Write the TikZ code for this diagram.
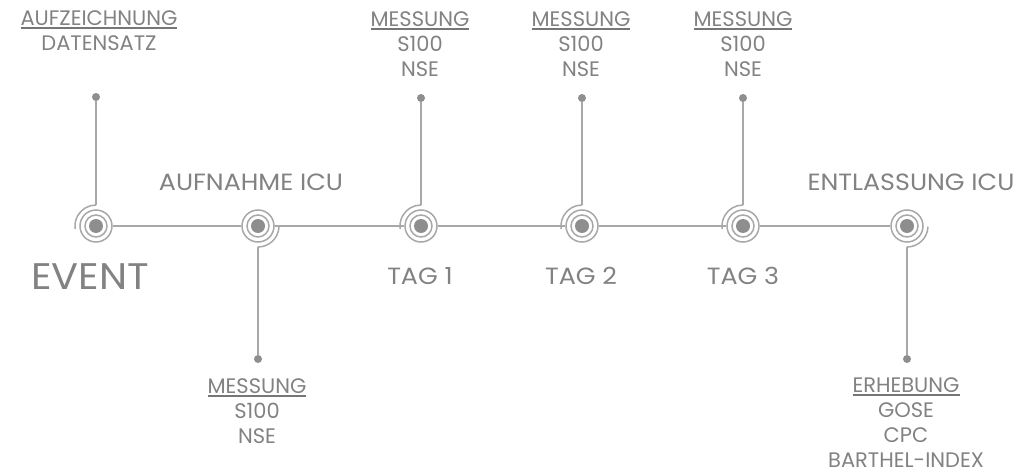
\documentclass[tikz,border=0pt]{standalone}
\usepackage{fontspec}
\setmainfont{Poppins}
\newfontfamily\widefont[FakeStretch=1.08]{Poppins}
\usetikzlibrary{calc}
\definecolor{txt}{HTML}{828282}
\definecolor{ln}{HTML}{A8A8A8}
\definecolor{dotc}{HTML}{8E8E8E}
\definecolor{ulc}{HTML}{767676}
\newcommand\myul[1]{\setbox0\hbox{#1}\rlap{\color{ulc}\rule[-3.5pt]{\wd0}{1.7pt}}\box0}
\begin{document}
\begin{tikzpicture}[x=1pt,y=-1pt,
  ring/.style={circle,draw=ln,line width=1.5pt,minimum size=32pt,inner sep=0pt},
  conn/.style={draw=ln,line width=1.5pt},
  enddot/.style={circle,fill=dotc,minimum size=8pt,inner sep=0pt},
  lbl/.style={text=txt,align=center,font=\fontsize{21}{25}\selectfont,inner sep=0pt},
  stage/.style={text=txt,font=\widefont\fontsize{23.5}{26}\selectfont,inner sep=0pt},
]
\useasboundingbox (0,0) rectangle (1023,476);

% markers
\foreach \n/\x in {1/96,2/258,3/421,4/582,5/743,6/907}{
  \node[ring] (m\n) at (\x,226) {};
  \draw[ln,line width=1.5pt] (m\n.center) circle (11pt);
  \fill[dotc] (m\n.center) circle (7pt);
}
% outer arcs (top for up-connectors, bottom for down-connectors)
\foreach \n in {1,3,4,5}{
  \coordinate (t\n) at ($(m\n)+(0,-21)$);
  \draw[ln,line width=1.5pt] (t\n) arc[start angle=90,end angle=188,radius=21pt];
}
\foreach \n in {2,6}{
  \coordinate (t\n) at ($(m\n)+(0,21)$);
  \draw[ln,line width=1.5pt] (t\n) arc[start angle=270,end angle=358,radius=21pt];
}

% timeline
\draw[conn] (m1) -- (m2);
\draw[conn] (m2) -- (m3);
\draw[conn] (m3) -- (m4);
\draw[conn] (m4) -- (m5);
\draw[conn] (m5) -- (m6);

% end dots and connectors
\node[enddot] (d1) at (96,97) {};
\node[enddot] (d3) at (421,98) {};
\node[enddot] (d4) at (582,98) {};
\node[enddot] (d5) at (743,98) {};
\node[enddot] (d2) at (258,359) {};
\node[enddot] (d6) at (907,359) {};
\foreach \n in {1,2,3,4,5,6}{ \draw[conn] (d\n) -- (t\n); }

% top labels
\node[lbl,anchor=north] (l1) at (99,10) {\myul{AUFZEICHNUNG}\\DATENSATZ};
\node[lbl,anchor=north] (l3) at (420,11) {\myul{MESSUNG}\\S100\\NSE};
\node[lbl,anchor=north] (l4) at (581,11) {\myul{MESSUNG}\\S100\\NSE};
\node[lbl,anchor=north] (l5) at (743,11) {\myul{MESSUNG}\\S100\\NSE};
% bottom labels
\node[lbl,anchor=north] (l2) at (257,378) {\myul{MESSUNG}\\S100\\NSE};
\node[lbl,anchor=north] (l6) at (906,377) {\myul{ERHEBUNG}\\GOSE\\CPC\\BARTHEL-INDEX};

% stage labels
\node[stage] (s1) at (90,277) {\fontsize{37}{40}\selectfont EVENT};
\node[stage] (s2) at (251,182) {AUFNAHME ICU};
\node[stage] (s3) at (420,276) {TAG 1};
\node[stage] (s4) at (581,276) {TAG 2};
\node[stage] (s5) at (743,276) {TAG 3};
\node[stage] (s6) at (911,182) {ENTLASSUNG ICU};
\end{tikzpicture}
\end{document}
